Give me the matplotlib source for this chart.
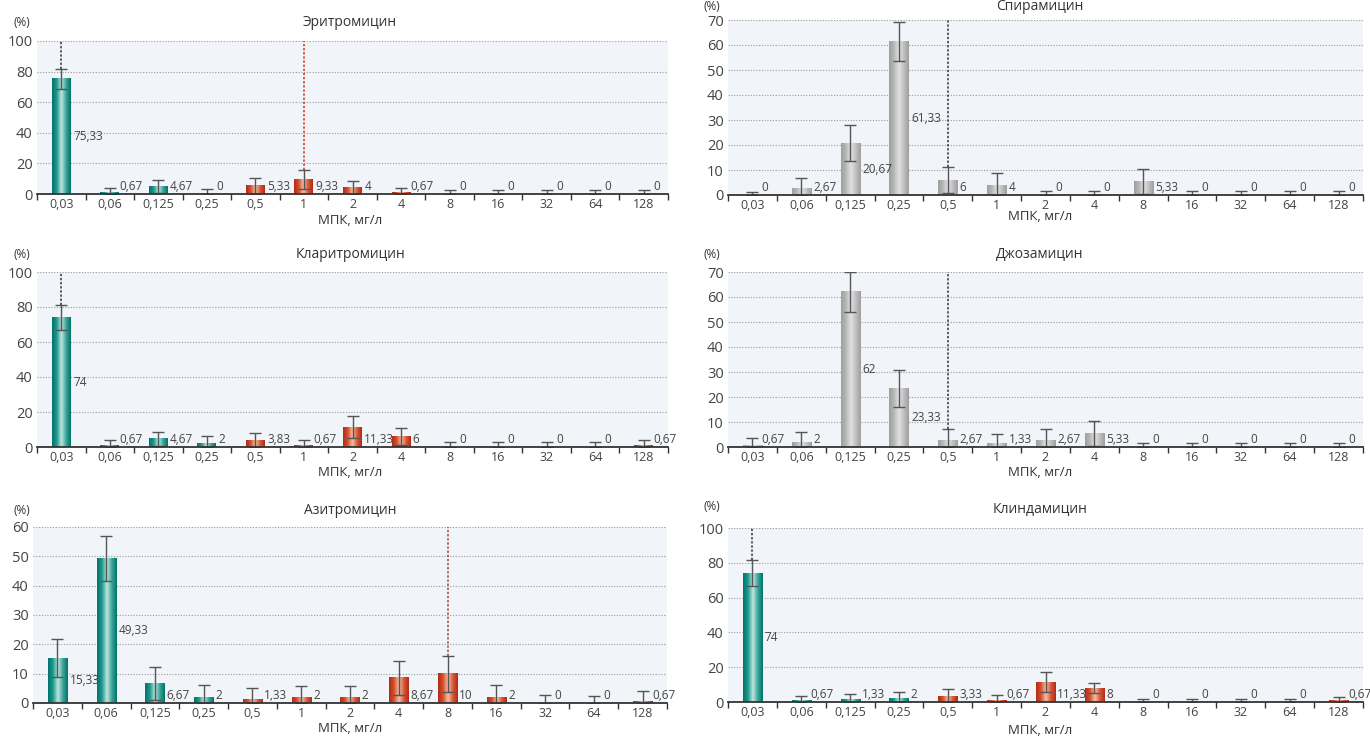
import matplotlib
matplotlib.use('Agg')
import matplotlib.pyplot as plt
import numpy as np
from matplotlib.colors import LinearSegmentedColormap

plt.rcParams['font.family'] = ['Open Sans', 'DejaVu Sans']

categories = ['0,03', '0,06', '0,125', '0,25', '0,5', '1', '2', '4', '8', '16', '32', '64', '128']

# values (%) and half-width of error bars
ery_vals = [75.33, 0.67, 4.67, 0, 5.33, 9.33, 4, 0.67, 0, 0, 0, 0, 0]
ery_err = [6.5, 3.5, 4.3, 3.0, 5.3, 6.2, 4.3, 3.0, 2.4, 2.4, 2.4, 2.4, 2.4]

spi_vals = [0, 2.67, 20.67, 61.33, 6, 4, 0, 0, 5.33, 0, 0, 0, 0]
spi_err = [1.3, 4.3, 7.2, 7.9, 5.3, 4.8, 1.5, 1.5, 5.0, 1.5, 1.5, 1.5, 1.5]

cla_vals = [74, 0.67, 4.67, 2, 3.83, 0.67, 11.33, 6, 0, 0, 0, 0, 0.67]
cla_err = [7.0, 3.4, 4.0, 4.3, 4.2, 3.4, 6.3, 5.1, 2.7, 2.7, 2.7, 2.7, 3.5]

jos_vals = [0.67, 2, 62, 23.33, 2.67, 1.33, 2.67, 5.33, 0, 0, 0, 0, 0]
jos_err = [3.0, 4.0, 8.0, 7.3, 4.7, 4.0, 4.5, 5.0, 1.5, 1.5, 1.5, 1.5, 1.5]

azi_vals = [15.33, 49.33, 6.67, 2, 1.33, 2, 2, 8.67, 10, 2, 0, 0, 0.67]
azi_err = [6.5, 7.7, 5.5, 4.0, 3.7, 3.7, 3.7, 5.8, 6.1, 4.0, 2.6, 2.3, 3.4]

cli_vals = [74, 0.67, 1.33, 2, 3.33, 0.67, 11.33, 8, 0, 0, 0, 0, 0.67]
cli_err = [7.5, 2.8, 3.5, 3.7, 4.2, 3.3, 5.8, 3.0, 1.5, 1.5, 1.5, 1.5, 2.4]

teal_cm = LinearSegmentedColormap.from_list('teal', ['#00736a', '#1f9a8d', '#bfe6e0', '#3aa598', '#00736a'])
red_cm = LinearSegmentedColormap.from_list('red', ['#b22a14', '#d4502f', '#f6c0a6', '#d9583a', '#b22a14'])
gray_cm = LinearSegmentedColormap.from_list('gray', ['#9e9e9e', '#b8b8b8', '#e2e2e2', '#c0c0c0', '#9e9e9e'])
grad = np.linspace(0, 1, 64).reshape(1, -1)

W, H = 1370, 740
fig = plt.figure(figsize=(13.7, 7.4), dpi=100)

panels = [
    # title, vals, err, ymax, ystep, colour scheme, breakpoints, axes rect in px (left, top, right, bottom)
    ('Эритромицин', ery_vals, ery_err, 100, 20, 'tr', [(0, '#333333'), (5, '#d0311c')], (37, 41, 668, 194)),
    ('Спирамицин', spi_vals, spi_err, 70, 10, 'gray', [(4, '#333333')], (728, 20, 1363, 195)),
    ('Кларитромицин', cla_vals, cla_err, 100, 20, 'tr', [(0, '#333333')], (37, 272, 668, 447)),
    ('Джозамицин', jos_vals, jos_err, 70, 10, 'gray', [(4, '#333333')], (728, 272, 1363, 447)),
    ('Азитромицин', azi_vals, azi_err, 60, 10, 'tr', [(8, '#a0442c')], (33, 527, 667, 703)),
    ('Клиндамицин', cli_vals, cli_err, 100, 20, 'tr', [(0, '#333333')], (728, 528, 1363, 702)),
]
title_pos = [(350, 22), (1040, 6), (350, 254), (1040, 254), (350, 510), (1040, 510)]
pct_pos = [(22, 22), (712, 6), (22, 254), (712, 254), (22, 510), (712, 507)]
xlab_pos = [(350, 220), (1040, 217), (350, 472), (1040, 472), (350, 729), (1040, 731)]

x = np.arange(len(categories))
for k, (title, vals, err, ymax, ystep, scheme, bps, rect) in enumerate(panels):
    l, t, r, b = rect
    ax = fig.add_axes([l / W, 1 - b / H, (r - l) / W, (b - t) / H])
    ax.set_facecolor('#f1f5f9')
    vals = np.array(vals, dtype=float)
    err = np.array(err, dtype=float)
    lo = np.minimum(err, vals)
    bars = ax.bar(x, vals, width=0.39, color='none', zorder=2)
    for i, p in enumerate(bars):
        h = p.get_height()
        if h <= 0:
            continue
        if scheme == 'gray':
            cm = gray_cm
        else:
            cm = teal_cm if i < 4 else red_cm
        ax.imshow(grad, extent=[p.get_x(), p.get_x() + p.get_width(), 0, h],
                  aspect='auto', cmap=cm, zorder=2, interpolation='bilinear')
    ax.errorbar(x, vals, yerr=[lo, err], fmt='none', ecolor='#555555',
                elinewidth=1, capsize=4, capthick=1, zorder=3)
    for i, col in bps:
        ax.plot([x[i], x[i]], [vals[i] + err[i], ymax], linestyle=(0, (1.5, 1.2)),
                color=col, lw=1.1, zorder=3)
    for i, v in enumerate(vals):
        lab = str(int(v)) if v == int(v) else f'{v:.2f}'.replace('.', ',')
        if v >= 15:
            ax.annotate(lab, (x[i] + 0.195, v / 2), xytext=(2, 0), textcoords='offset points',
                        ha='left', va='center', fontsize=8.5, color='#444444', zorder=4)
        else:
            dx = 0.2 if v >= 1 else 0.15
            ax.annotate(lab, (x[i] + dx, 0), xytext=(1.5, 0.5), textcoords='offset points',
                        ha='left', va='bottom', fontsize=8.5, color='#444444', zorder=4)
    ax.set_xlim(-0.5, len(categories) - 0.5)
    ax.set_ylim(0, ymax)
    ax.set_yticks(np.arange(0, ymax + 1, ystep))
    ax.set_xticks(x)
    ax.set_xticklabels(categories, fontsize=9, color='#444444')
    ax.set_xticks(np.arange(-0.5, len(categories), 1), minor=True)
    ax.tick_params(axis='x', which='major', length=0, pad=3)
    ax.tick_params(axis='x', which='minor', length=4, width=1, color='#333333', direction='out')
    ax.tick_params(axis='y', length=0, pad=3, labelsize=10.5, labelcolor='#444444')
    ax.yaxis.grid(True, linestyle=(0, (1, 1.5)), color='#9a9a9a', lw=0.8)
    ax.set_axisbelow(True)
    for s in ['left', 'top', 'right']:
        ax.spines[s].set_visible(False)
    ax.spines['bottom'].set_color('#333333')
    ax.spines['bottom'].set_linewidth(1.3)
    ax.spines['bottom'].set_zorder(5)

    tx, ty = title_pos[k]
    fig.text(tx / W, 1 - ty / H, title, ha='center', va='center', fontsize=10, color='#333333')
    px, py = pct_pos[k]
    fig.text(px / W, 1 - py / H, '(%)', ha='center', va='center', fontsize=8.5, color='#333333')
    lx, ly = xlab_pos[k]
    fig.text(lx / W, 1 - ly / H, 'МПК, мг/л', ha='center', va='center', fontsize=9.5, color='#333333')

fig.savefig('out.png', dpi=100, facecolor='white')
